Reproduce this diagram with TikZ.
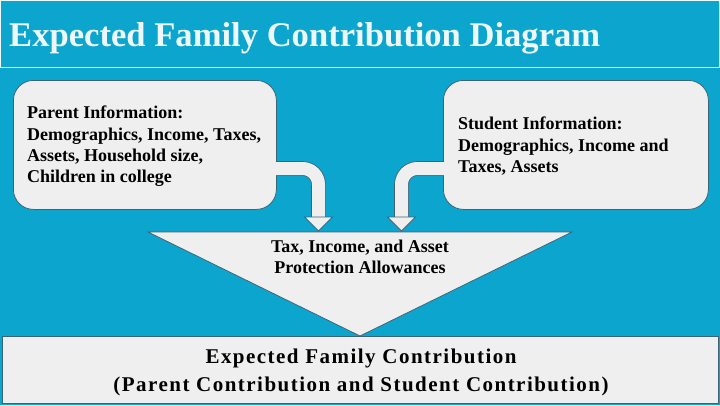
\documentclass[tikz,border=0pt]{standalone}
\usepackage{fontspec}
\setmainfont{Liberation Serif}
\newfontfamily\tnr{Liberation Serif}
\newfontfamily\tnrwide{Liberation Serif}[LetterSpace=7]
\definecolor{bgblue}{RGB}{12,165,206}
\definecolor{boxfill}{RGB}{239,239,240}
\definecolor{boxline}{RGB}{60,100,120}
\definecolor{titlewhite}{RGB}{236,248,252}
\begin{document}
\begin{tikzpicture}[x=1pt,y=-1pt,
  infobox/.style={draw=boxline, line width=0.8pt, fill=boxfill, rounded corners=20pt,
    inner sep=0pt, anchor=north west},
  boxtext/.style={font=\tnr\fontsize{18}{21.3}\selectfont\bfseries, align=left, anchor=north west, inner sep=0pt},
  shaftout/.style={draw=boxline, line width=14.6pt, rounded corners=16pt},
  shaftin/.style={draw=boxfill, line width=13pt, rounded corners=16pt},
  headstyle/.style={fill=boxfill, draw=boxline, line width=0.8pt}
]
\fill[bgblue] (0,0) rectangle (720,405);
\useasboundingbox (0,0) rectangle (720,405);
% title frame
\draw[titlewhite, line width=1pt] (0.5,0.5) rectangle (719.5,67);
\node[anchor=base west, inner sep=0pt, text=titlewhite,
  font=\tnr\fontsize{34.6}{40}\selectfont\bfseries] (title) at (9,46) {Expected Family Contribution Diagram};

% boxes
\node[infobox, minimum width=263pt, minimum height=129pt] (parent) at (13,80) {};
\node[infobox, minimum width=265pt, minimum height=129pt] (student) at (443,80) {};

\node[boxtext] (ptext) at (27,106) {Parent Information:\\Demographics, Income, Taxes,\\Assets, Household size,\\Children in college};
\node[boxtext] (stext) at (458,117) {Student Information:\\Demographics, Income and\\Taxes, Assets};

% big triangle
\coordinate (tl) at (148,232);
\coordinate (tr) at (572,232);
\coordinate (tapex) at (360,336);
\draw[headstyle] (tl) -- (tr) -- (tapex) -- cycle;
\node[font=\tnr\fontsize{18}{20.5}\selectfont\bfseries, align=center, anchor=north, inner sep=0pt]
  (allow) at (360,240) {Tax, Income, and Asset\\Protection Allowances};

% bottom box
\node[draw=boxline, line width=0.8pt, fill=boxfill, anchor=north west, inner sep=0pt,
  minimum width=716pt, minimum height=67pt] (efc) at (2,336) {};
\node[font=\tnrwide\fontsize{21}{27.5}\selectfont\bfseries, align=center, anchor=north, inner sep=0pt] (efctext) at (361,349)
  {Expected Family Contribution\\(Parent Contribution and Student Contribution)};

% bent arrows
\coordinate (pa) at (parent.east |- 0,168.5);
\coordinate (pb) at (318.5,168.5);
\coordinate (pc) at (318.5,218);
\coordinate (sa) at (student.west |- 0,168.5);
\coordinate (sb) at (401.5,168.5);
\coordinate (sc) at (401.5,218);
\draw[shaftout] (pa) -- (pb) -- (pc);
\draw[shaftin] ([xshift=-3pt]pa) -- (pb) -- ([yshift=0.5pt]pc);
\draw[headstyle] (304.5,217) -- (332.5,217) -- (318.5,231) -- cycle;
\draw[shaftout] (sa) -- (sb) -- (sc);
\draw[shaftin] ([xshift=3pt]sa) -- (sb) -- ([yshift=0.5pt]sc);
\draw[headstyle] (387.5,217) -- (415.5,217) -- (401.5,231) -- cycle;
\end{tikzpicture}
\end{document}
